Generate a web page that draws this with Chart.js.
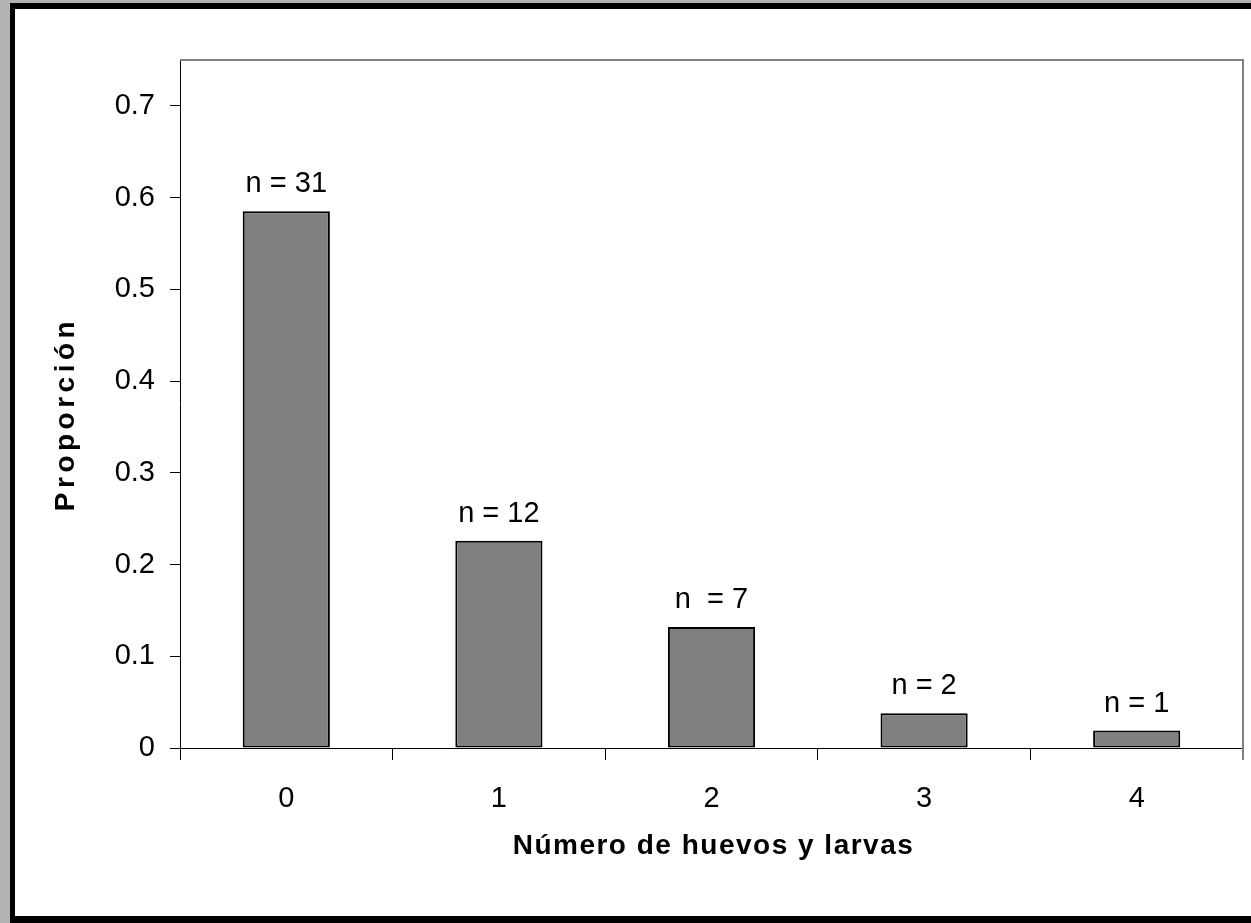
<!DOCTYPE html>
<html>
<head>
<meta charset="utf-8">
<script src="https://cdn.jsdelivr.net/npm/chart.js@4.4.1/dist/chart.umd.min.js"></script>
<style>
  html, body { margin: 0; padding: 0; background: #b3b3b3; overflow: hidden; }
  #wrap { width: 1251px; height: 923px; }
</style>
</head>
<body>
<div id="wrap"><canvas id="chart" width="1251" height="923"></canvas></div>
<script>
// Número de huevos y larvas por planta: proporción y tamaño de cada clase
const categories = ['0', '1', '2', '3', '4'];
const proportions = [0.585, 0.226, 0.132, 0.038, 0.019];
const countLabels = ['n = 31', 'n = 12', 'n  = 7', 'n = 2', 'n = 1'];
const yTickValues = [0, 0.1, 0.2, 0.3, 0.4, 0.5, 0.6, 0.7];
const xTitle = 'Número de huevos y larvas';
const yTitle = 'Proporción';

const FONT = '"Liberation Sans", Arial, sans-serif';

// Grey page, black frame and white panel behind the plot
const framePlugin = {
  id: 'frame',
  beforeDraw(chart) {
    const ctx = chart.ctx;
    ctx.save();
    ctx.fillStyle = '#b3b3b3';
    ctx.fillRect(0, 0, chart.width, chart.height);
    ctx.fillStyle = '#000000';
    ctx.fillRect(10, 3, chart.width, chart.height);
    ctx.fillStyle = '#ffffff';
    ctx.fillRect(15, 9, chart.width, 907);
    ctx.restore();
  }
};

// Grey top and right edges of the plot area
const plotEdgePlugin = {
  id: 'plotEdge',
  afterDraw(chart) {
    const { ctx, chartArea: a } = chart;
    ctx.save();
    ctx.strokeStyle = '#808080';
    ctx.lineWidth = 2;
    ctx.beginPath();
    ctx.moveTo(a.left, a.top);
    ctx.lineTo(a.right, a.top);
    ctx.lineTo(a.right, a.bottom + 12);
    ctx.stroke();
    ctx.restore();
  }
};

// "n = …" counts above each bar
const countPlugin = {
  id: 'counts',
  afterDatasetsDraw(chart) {
    const ctx = chart.ctx;
    const meta = chart.getDatasetMeta(0);
    ctx.save();
    ctx.font = '29px ' + FONT;
    ctx.fillStyle = '#000000';
    ctx.textAlign = 'center';
    ctx.textBaseline = 'alphabetic';
    meta.data.forEach((bar, i) => {
      ctx.fillText(countLabels[i], bar.x, bar.y - 19);
    });
    ctx.restore();
  }
};

// Bold, slightly letter-spaced axis titles
const axisTitlePlugin = {
  id: 'axisTitles',
  afterDraw(chart) {
    const { ctx, chartArea: a } = chart;
    ctx.save();
    ctx.fillStyle = '#000000';
    ctx.font = 'bold 28px ' + FONT;
    ctx.textAlign = 'center';
    ctx.textBaseline = 'middle';
    ctx.letterSpacing = '1.5px';
    ctx.fillText(xTitle, (a.left + a.right) / 2 + 2, 846);
    ctx.translate(66, (a.top + a.bottom) / 2 + 10);
    ctx.rotate(-Math.PI / 2);
    ctx.letterSpacing = '4.5px';
    ctx.fillText(yTitle, 0, 0);
    ctx.restore();
  }
};

new Chart(document.getElementById('chart'), {
  type: 'bar',
  data: {
    labels: categories,
    datasets: [{
      data: proportions,
      backgroundColor: '#808080',
      borderColor: '#000000',
      borderWidth: 2,
      borderSkipped: false,
      categoryPercentage: 1,
      barPercentage: 0.41
    }]
  },
  options: {
    responsive: false,
    animation: false,
    devicePixelRatio: 1,
    layout: { padding: { top: 60, right: 8, bottom: 75, left: 0 } },
    plugins: {
      legend: { display: false },
      tooltip: { enabled: false },
      title: { display: false }
    },
    scales: {
      x: {
        offset: true,
        grid: {
          offset: true,
          drawOnChartArea: false,
          drawTicks: true,
          tickLength: 12,
          color: '#000000',
          lineWidth: 1
        },
        border: { display: true, color: '#000000', width: 1 },
        ticks: {
          color: '#000000',
          font: { family: FONT, size: 29 },
          padding: 22
        },
        afterFit(scale) { scale.height = 100; }
      },
      y: {
        min: 0,
        max: 0.75,
        afterBuildTicks(scale) {
          scale.ticks = yTickValues.map(v => ({ value: v }));
        },
        grid: {
          drawOnChartArea: false,
          drawTicks: true,
          tickLength: 10,
          color: '#000000',
          lineWidth: 1
        },
        border: { display: true, color: '#000000', width: 1 },
        ticks: {
          color: '#000000',
          font: { family: FONT, size: 29 },
          padding: 15,
          callback: v => (v === 0 ? '0' : v.toFixed(1))
        },
        afterFit(scale) { scale.width = 180; }
      }
    }
  },
  plugins: [framePlugin, plotEdgePlugin, countPlugin, axisTitlePlugin]
});
</script>
</body>
</html>
